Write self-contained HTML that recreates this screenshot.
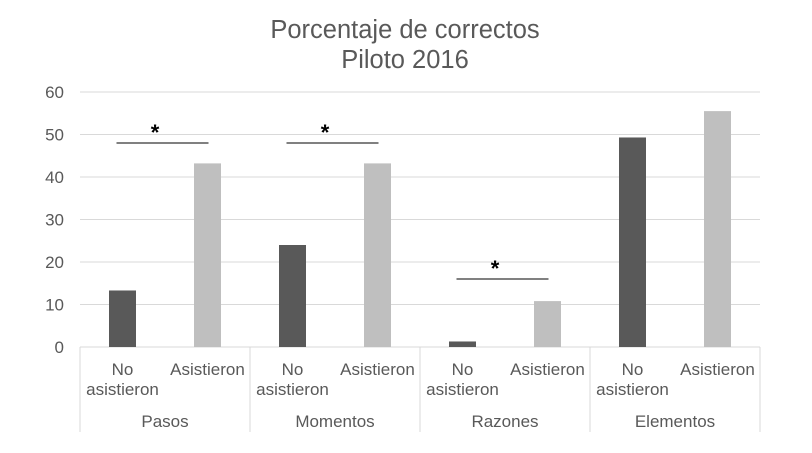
<!DOCTYPE html>
<html><head><meta charset="utf-8"><style>
body{margin:0;background:#fff;}
svg{display:block;font-family:"Liberation Sans",Arial,sans-serif;}
</style></head><body>
<svg id="chart" width="812" height="453" viewBox="0 0 812 453">
<rect width="812" height="453" fill="#fff"/>
<text x="405" y="38" text-anchor="middle" font-size="25.5" fill="#595959">Porcentaje de correctos</text>
<text x="405" y="68" text-anchor="middle" font-size="25.5" fill="#595959">Piloto 2016</text>
<g id="grid"></g><g id="bars"></g><g id="labels"></g><g id="sig"></g>
</svg>
<script>
const groups=["Pasos","Momentos","Razones","Elementos"];
const subcats=["No asistieron","Asistieron"];
const noAsistieron=[13.3,24.0,1.3,49.3];
const asistieron=[43.2,43.2,10.8,55.5];
const yTicks=[0,10,20,30,40,50,60];
const sigGroups=[0,1,2];
const sigHeights=[48,48,16];

const NS="http://www.w3.org/2000/svg";
const left=80,right=760,y0=347,yTop=92,yMax=60;
const y=v=>y0-(v/yMax)*(y0-yTop);
const gW=(right-left)/groups.length;
const x=(g,s)=>left+g*gW+gW/4+s*gW/2;
function mk(parent,tag,attrs,text){const e=document.createElementNS(NS,tag);for(const k in attrs)e.setAttribute(k,attrs[k]);if(text!==undefined)e.textContent=text;document.getElementById(parent).appendChild(e);return e;}
yTicks.forEach(t=>{
  if(t>0){const l=mk("grid","line",{x1:left,x2:right,y1:y(t),y2:y(t),stroke:"#d9d9d9","stroke-width":1});
  
  }
  const tx=mk("grid","text",{x:64,y:y(t)+6,"text-anchor":"end","font-size":17,fill:"#595959"},t);
  
  
});
const ax=mk("grid","line",{x1:left,x2:right,y1:y0,y2:y0,stroke:"#d9d9d9","stroke-width":1});


for(let g=0;g<=groups.length;g++){
  const sl=mk("grid","line",{x1:left+g*gW,x2:left+g*gW,y1:y0,y2:432,stroke:"#d9d9d9","stroke-width":1});
  
  
}
const bw=27;
groups.forEach((gname,g)=>{
  [noAsistieron,asistieron].forEach((arr,s)=>{
    const r=mk("bars","rect",{x:x(g,s)-bw/2,y:y(arr[g]),width:bw,height:y0-y(arr[g]),fill:s?"#bfbfbf":"#595959"});
    
    
  });
  const a=mk("labels","text",{x:x(g,0),y:375,"text-anchor":"middle","font-size":17,fill:"#595959"},"No");
  
  
  const b=mk("labels","text",{x:x(g,0),y:395,"text-anchor":"middle","font-size":17,fill:"#595959"},"asistieron");
  
  
  const c=mk("labels","text",{x:x(g,1),y:375,"text-anchor":"middle","font-size":17,fill:"#595959"},"Asistieron");
  
  
  const d=mk("labels","text",{x:left+g*gW+gW/2,y:427,"text-anchor":"middle","font-size":17,fill:"#595959"},gname);
  
  
});
sigGroups.forEach((g,i)=>{
  const yy=y(sigHeights[i]);
  const l=mk("sig","line",{x1:x(g,0)-6,x2:x(g,1)+1,y1:yy,y2:yy,stroke:"#000","stroke-width":1});
  
  
  const s=mk("sig","text",{x:(x(g,0)+x(g,1))/2-10,y:yy-3,"text-anchor":"middle","font-size":22,"font-weight":"bold",fill:"#000"},"*");
  
  
});
</script>
</body></html>
